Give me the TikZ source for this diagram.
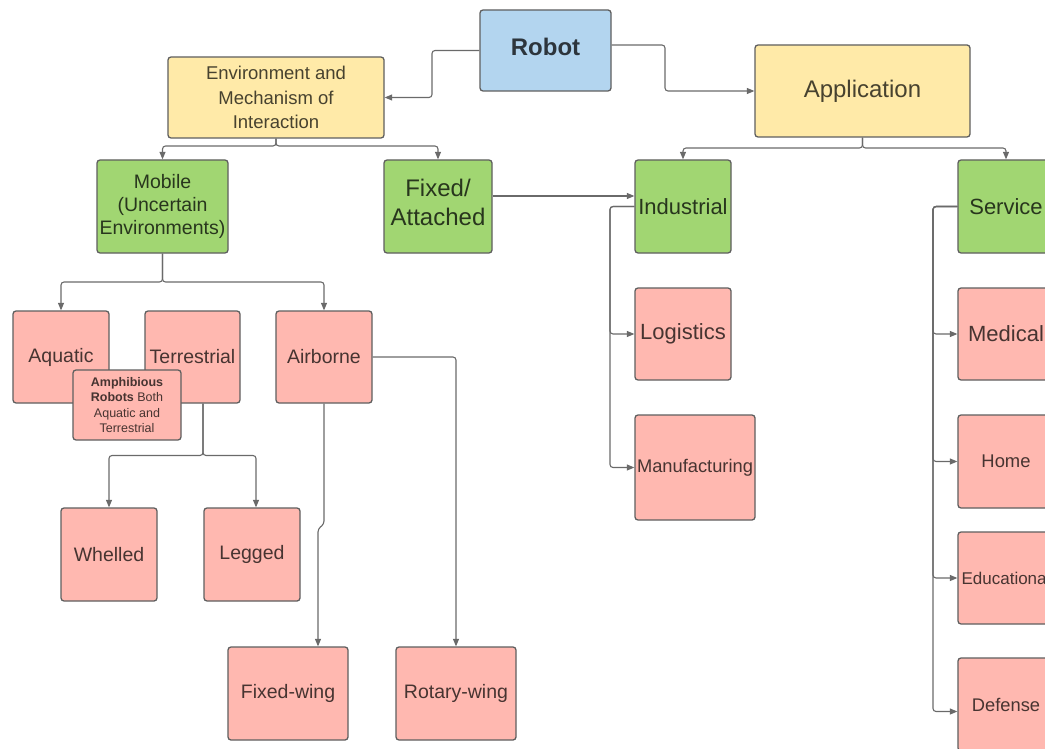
\documentclass[tikz,border=0pt]{standalone}
\usepackage{fontspec}
\setmainfont{Liberation Sans}
\usetikzlibrary{arrows.meta,calc}
\definecolor{bluefill}{HTML}{B3D5EF}
\definecolor{yellowfill}{HTML}{FFEAA8}
\definecolor{greenfill}{HTML}{A1D672}
\definecolor{pinkfill}{HTML}{FFB8B0}
\definecolor{boxline}{HTML}{5F5F5F}
\definecolor{connline}{HTML}{6A6A6A}
\tikzset{
  box/.style={draw=boxline, line width=1.3pt, rounded corners=3pt, inner sep=1pt, align=center},
  bluebox/.style={box, fill=bluefill, text=bluefill!25!black},
  yellowbox/.style={box, fill=yellowfill, text=yellowfill!28!black},
  greenbox/.style={box, fill=greenfill, text=greenfill!25!black},
  pinkbox/.style={box, fill=pinkfill, text=pinkfill!28!black},
  conn/.style={draw=connline, line width=1.1pt, rounded corners=3pt, -{Triangle[length=7.5pt,width=6pt]}}
}
\begin{document}
\begin{tikzpicture}[x=1pt,y=-1pt]
\useasboundingbox (0,0) rectangle (1045,749);
\clip (0,0) rectangle (1045,749);
\fill[white] (0,0) rectangle (1045,749);

% top level
\node[bluebox, minimum width=131, minimum height=81] (robot) at (545.5,50.5) {};
\node[text=bluefill!25!black, font=\fontsize{24}{28}\selectfont\bfseries] (robottext) at (545.5,47) {Robot};
\node[yellowbox, minimum width=216, minimum height=81, font=\fontsize{18.5}{24.5}\selectfont] (env) at (276,97.5) {Environment and\\Mechanism of\\Interaction};
\node[yellowbox, minimum width=215, minimum height=92, font=\fontsize{24}{28}\selectfont] (app) at (862.5,91) {Application};

% second level
\node[greenbox, minimum width=131, minimum height=93, font=\fontsize{19.5}{23}\selectfont] (mobile) at (162.5,206.5) {Mobile\\(Uncertain\\Environments)};
\node[greenbox, minimum width=108, minimum height=93] (fixed) at (438,206.5) {};
\node[text=greenfill!25!black, align=center, font=\fontsize{24}{29}\selectfont] (fixedtext) at (438,202.5) {Fixed/\\Attached};
\node[greenbox, minimum width=96, minimum height=93, font=\fontsize{22}{26}\selectfont] (ind) at (683,206.5) {Industrial};
\node[greenbox, minimum width=96, minimum height=93, font=\fontsize{22}{26}\selectfont] (serv) at (1006,206.5) {Service};

% mobile children
\node[pinkbox, minimum width=96, minimum height=92, font=\fontsize{19.5}{23}\selectfont] (aq) at (61,357) {Aquatic};
\node[pinkbox, minimum width=95, minimum height=92, font=\fontsize{19.5}{23}\selectfont] (ter) at (192.5,357) {Terrestrial};
\node[pinkbox, minimum width=96, minimum height=92, font=\fontsize{19.5}{23}\selectfont] (air) at (324,357) {Airborne};

\node[pinkbox, minimum width=96, minimum height=93, font=\fontsize{19.5}{23}\selectfont] (whel) at (109,554.5) {Whelled};
\node[pinkbox, minimum width=96, minimum height=93, font=\fontsize{19.5}{23}\selectfont] (leg) at (252,554.5) {Legged};
\node[pinkbox, minimum width=120, minimum height=93, font=\fontsize{19.5}{23}\selectfont] (fw) at (288,693.5) {Fixed-wing};
\node[pinkbox, minimum width=120, minimum height=93, font=\fontsize{19.5}{23}\selectfont] (rw) at (456,693.5) {Rotary-wing};

% industrial children
\node[pinkbox, minimum width=96, minimum height=92, font=\fontsize{22}{26}\selectfont] (log) at (683,334) {Logistics};
\node[pinkbox, minimum width=120, minimum height=105, font=\fontsize{18.3}{22}\selectfont] (man) at (695,467.5) {Manufacturing};

% service children
\node[pinkbox, minimum width=96, minimum height=92, font=\fontsize{22}{26}\selectfont] (med) at (1006,334) {Medical};
\node[pinkbox, minimum width=96, minimum height=93, font=\fontsize{18.4}{22}\selectfont] (home) at (1006,461.5) {Home};
\node[pinkbox, minimum width=96, minimum height=92, font=\fontsize{17}{20}\selectfont] (edu) at (1006,578) {Educational};
\node[pinkbox, minimum width=96, minimum height=93, font=\fontsize{18.3}{22}\selectfont] (def) at (1006,704.5) {Defense};

% connectors
\draw[conn] (robot.west) -- (432,50.5) |- (env.east);
\draw[conn] ([yshift=5.5pt]robot.east) -- (665,45) |- (app.west);
\draw[conn] (env.south) -- (276,146) -| (mobile.north);
\draw[conn] (env.south) -- (276,146) -| (fixed.north);
\draw[conn] (app.south) -- (862.5,148) -| (ind.north);
\draw[conn] (app.south) -- (862.5,148) -| (serv.north);
\draw[conn] ([yshift=10.5pt]fixed.east) -- ([yshift=10.5pt]ind.west);
\draw[conn] (ind.west) -- (610,206.5) |- (log.west);
\draw[conn] (ind.west) -- (610,206.5) |- (man.west);
\draw[conn] (serv.west) -- (933,206.5) |- (med.west);
\draw[conn] (serv.west) -- (933,206.5) |- (home.west);
\draw[conn] (serv.west) -- (933,206.5) |- (edu.west);
\draw[conn] (serv.west) -- (933,206.5) |- ([yshift=-7pt]def.west);
\draw[conn] (mobile.south) -- (162.5,282) -| (aq.north);
\draw[conn] (mobile.south) -- (162.5,282) -| (air.north);
\draw[conn] ([xshift=10.5pt]ter.south) -- (203,455.5) -| (whel.north);
\draw[conn] ([xshift=10.5pt]ter.south) -- (203,455.5) -| ([xshift=4pt]leg.north);
\draw[conn] (air.south) -- (324,524) -- (318,529) -- ([xshift=30pt]fw.north);
\draw[conn] (air.east) -- (456,357) -- (rw.north);

% amphibious box on top
\node[pinkbox, minimum width=108, minimum height=70, font=\fontsize{12.5}{15.5}\selectfont] (amph) at (127,405) {\textbf{Amphibious}\\\textbf{Robots} Both\\Aquatic and\\Terrestrial};
\end{tikzpicture}
\end{document}
